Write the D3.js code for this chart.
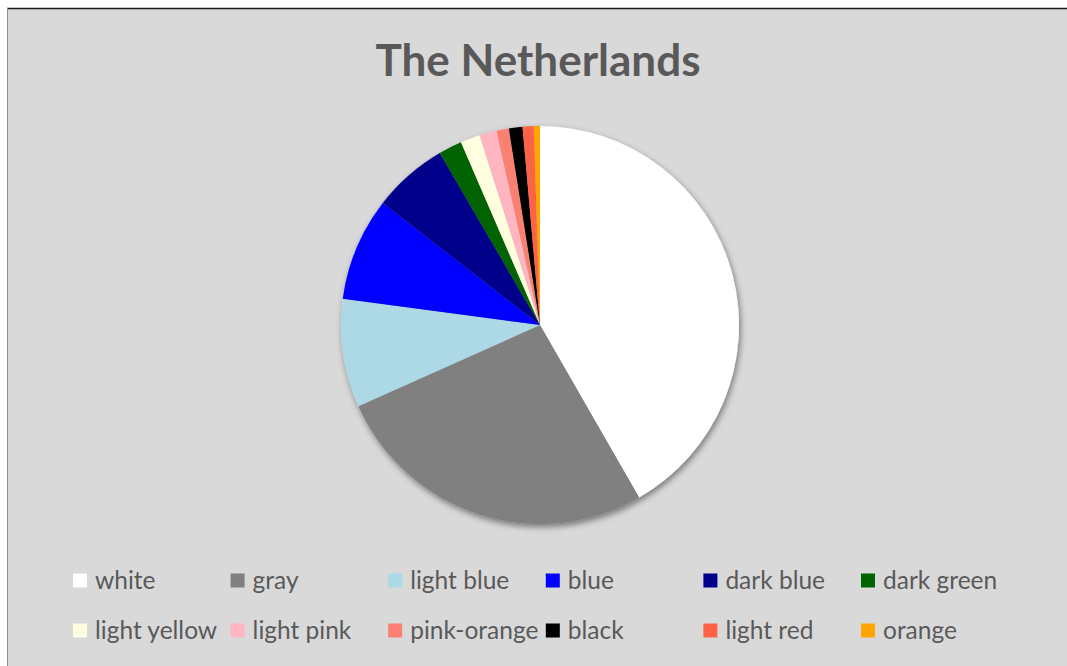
<!DOCTYPE html>
<html lang="en">
<head>
    <meta charset="UTF-8">
    <title>The Netherlands</title>
    <script src="https://cdnjs.cloudflare.com/ajax/libs/d3/7.8.5/d3.min.js"></script>
    <style>
        body { margin: 0; background: #fff; }
        svg { display: block; font-family: Lato, "Open Sans", sans-serif; }
    </style>
</head>
<body>
    <div id="chart"></div>

    <script>
        // Data (share of each colour, in %)
        const categories = ["white", "gray", "light blue", "blue", "dark blue", "dark green",
            "light yellow", "light pink", "pink-orange", "black", "light red", "orange"];
        const values = [41.7, 26.6, 8.8, 8.4, 6.1, 1.9, 1.6, 1.4, 1.0, 1.1, 0.9, 0.5];
        const colors = ["#FFFFFF", "#808080", "#ADD8E6", "#0000FF", "#00008B", "#006400",
            "#FFFFE0", "#FFB6C1", "#FA8072", "#000000", "#FF6347", "#FFA500"];

        const data = categories.map((c, i) => ({ category: c, value: values[i] }));

        const width = 1067;
        const height = 666;
        const radius = 199;
        const cx = 540, cy = 325;

        const svg = d3.select("#chart")
            .append("svg")
            .attr("width", width)
            .attr("height", height);

        // chart area background + border
        svg.append("rect")
            .attr("x", 7).attr("y", 8)
            .attr("width", width).attr("height", height)
            .attr("fill", "#D9D9D9");
        svg.append("line")
            .attr("x1", 7).attr("x2", width).attr("y1", 8.5).attr("y2", 8.5)
            .attr("stroke", "#1a1a1a").attr("stroke-width", 1.5);
        svg.append("line")
            .attr("x1", 7.5).attr("x2", 7.5).attr("y1", 8).attr("y2", height)
            .attr("stroke", "#8c8c8c").attr("stroke-width", 1);

        // shadow
        const defs = svg.append("defs");
        const filter = defs.append("filter")
            .attr("id", "shadow")
            .attr("x", "-20%").attr("y", "-20%")
            .attr("width", "140%").attr("height", "140%");
        filter.append("feDropShadow")
            .attr("dx", 1.5).attr("dy", 3)
            .attr("stdDeviation", 3)
            .attr("flood-color", "#000")
            .attr("flood-opacity", 0.45);

        // Title
        svg.append("text")
            .attr("x", 538)
            .attr("y", 76)
            .attr("text-anchor", "middle")
            .style("font-size", "44px")
            .style("font-weight", "bold")
            .attr("fill", "#595959")
            .text("The Netherlands");

        const color = d3.scaleOrdinal()
            .domain(categories)
            .range(colors);

        const pie = d3.pie()
            .value(d => d.value)
            .sort(null);

        const arc = d3.arc()
            .innerRadius(0)
            .outerRadius(radius);

        const g = svg.append("g")
            .attr("transform", `translate(${cx},${cy})`);

        g.append("g")
            .attr("filter", "url(#shadow)")
            .selectAll("path")
            .data(pie(data))
            .enter()
            .append("path")
            .attr("d", arc)
            .attr("fill", d => color(d.data.category));

        // Legend
        const legendX = d3.scalePoint()
            .domain(d3.range(6))
            .range([73, 861]);
        const legendY = [580.5, 630.5];

        const legendItems = svg.append("g")
            .selectAll(".legend-item")
            .data(data)
            .enter()
            .append("g")
            .attr("class", "legend-item")
            .attr("transform", (d, i) => `translate(${legendX(i % 6)}, ${legendY[Math.floor(i / 6)]})`);

        legendItems.append("rect")
            .attr("y", -7)
            .attr("width", 14)
            .attr("height", 14)
            .attr("fill", d => color(d.category));

        legendItems.append("text")
            .attr("x", 22)
            .attr("y", 8)
            .style("font-size", "24.5px")
            .attr("fill", "#595959")
            .text(d => d.category);
    </script>
</body>
</html>
